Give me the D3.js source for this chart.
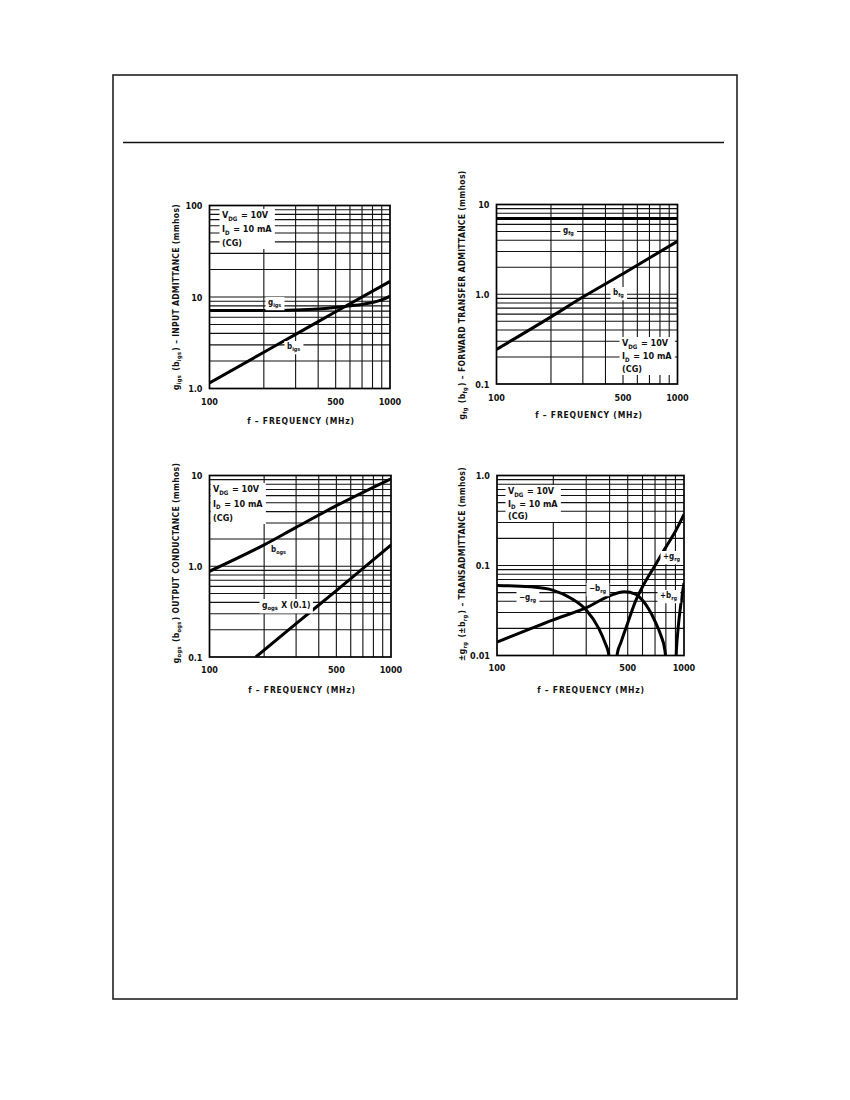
<!DOCTYPE html>
<html><head><meta charset="utf-8">
<script src="https://cdn.jsdelivr.net/npm/d3@7"></script>
<style>
body{margin:0;background:#fff;}
text{font-family:"Liberation Sans Narrow","DejaVu Sans Condensed","Liberation Sans",Arial,sans-serif;font-weight:bold;fill:#111;}
</style></head>
<body><svg id="c" width="850" height="1100"></svg>
<script>
// ---------- data ----------
const xTickValues = [100, 500, 1000];
const xGridValues = [200, 300, 400, 500, 600, 700, 800, 900];

// Chart 1: input admittance
const c1Freq = [100, 200, 300, 400, 500, 600, 700, 800, 900, 1000];
const c1Gigs = [7.1, 7.1, 7.2, 7.4, 7.7, 8.0, 8.3, 8.7, 9.3, 10.2];
const c1BFreq = [100, 200, 300, 500, 1000];
const c1Bigs = [1.15, 2.49, 3.9, 6.9, 14.8];
const c1YTicks = ["1.0", "10", "100"];

// Chart 2: forward transfer admittance
const c2Freq = [100, 1000];
const c2Gfg = [7.0, 7.0];
const c2BFreq = [100, 200, 300, 500, 1000];
const c2Bfg = [0.243, 0.56, 0.93, 1.69, 3.9];
const c2YTicks = ["0.1", "1.0", "10"];

// Chart 3: output conductance
const c3BFreq = [100, 200, 300, 500, 1000];
const c3Bogs = [0.88, 1.72, 2.68, 4.65, 9.2];
const c3GFreq = [180, 300, 500, 1000];
const c3Gogs = [0.1, 0.233, 0.54, 1.71];
const c3YTicks = ["0.1", "1.0", "10"];

// Chart 4: transadmittance
const c4NegGFreq = [100, 150, 200, 250, 300, 350, 380, 395, 405];
const c4NegG = [0.060, 0.058, 0.053, 0.043, 0.032, 0.020, 0.0135, 0.0105, 0.006];
const c4NegBFreq = [100, 200, 300, 400, 480, 550, 600, 700, 750, 790, 815];
const c4NegB = [0.0141, 0.0249, 0.034, 0.046, 0.051, 0.048, 0.041, 0.024, 0.017, 0.0115, 0.006];
const c4PosGFreq = [430, 440, 460, 500, 550, 600, 700, 800, 900, 1000];
const c4PosG = [0.007, 0.0105, 0.014, 0.023, 0.040, 0.058, 0.10, 0.16, 0.24, 0.37];
const c4PosBFreq = [900, 910, 930, 960, 1000];
const c4PosB = [0.006, 0.011, 0.02, 0.036, 0.064];
const c4YTicks = ["0.01", "0.1", "1.0"];

// ---------- drawing ----------
const svg = d3.select("#c");
svg.append("rect").attr("x", 113).attr("y", 75).attr("width", 624).attr("height", 924)
  .attr("fill", "none").attr("stroke", "#222").attr("stroke-width", 1.6);
svg.append("line").attr("x1", 123).attr("x2", 724).attr("y1", 142.5).attr("y2", 142.5)
  .attr("stroke", "#111").attr("stroke-width", 1.6);

function rich(sel, parts, size) {
  parts.forEach(p => {
    if (p[1]) {
      sel.append("tspan").attr("font-size", size * 0.68).attr("dy", size * 0.28).text(p[0]);
      sel.append("tspan").attr("font-size", size).attr("dy", -size * 0.28).text("\u200A");
    } else {
      sel.append("tspan").attr("font-size", size).text(p[0]);
    }
  });
  return sel;
}

let clipId = 0;
function chart(cfg) {
  const g = svg.append("g");
  const x = d3.scaleLog().domain([100, 1000]).range([cfg.x0, cfg.x1]);
  const y = d3.scaleLog().domain(cfg.yDomain).range([cfg.y1, cfg.y0]);
  const id = "clip" + (clipId++);
  g.append("clipPath").attr("id", id).append("rect")
    .attr("x", cfg.x0).attr("y", cfg.y0).attr("width", cfg.x1 - cfg.x0).attr("height", cfg.y1 - cfg.y0);

  // grid
  const hv = [];
  const lo = Math.log10(cfg.yDomain[0]), hi = Math.log10(cfg.yDomain[1]);
  for (let d = lo; d < hi; d++) for (let m = 1; m <= 9; m++) {
    const v = m * Math.pow(10, d);
    if (v > cfg.yDomain[0] * 1.0001) hv.push(v);
  }
  g.append("g").selectAll("line").data(hv).join("line")
    .attr("x1", cfg.x0).attr("x2", cfg.x1).attr("y1", d => y(d)).attr("y2", d => y(d))
    .attr("stroke", "#111").attr("stroke-width", 1.1);
  g.append("g").selectAll("line").data(xGridValues).join("line")
    .attr("x1", d => x(d)).attr("x2", d => x(d)).attr("y1", cfg.y0).attr("y2", cfg.y1)
    .attr("stroke", "#111").attr("stroke-width", 1.1);

  // curves
  const line = d3.line().x(d => x(d[0])).y(d => y(d[1])).curve(d3.curveMonotoneX);
  cfg.series.forEach(s => {
    g.append("path").attr("clip-path", `url(#${id})`)
      .datum(s.f.map((f, i) => [f, s.v[i]]))
      .attr("d", line).attr("fill", "none").attr("stroke", "#000")
      .attr("stroke-width", 3).attr("stroke-linejoin", "round");
  });

  // labels with knockout
  cfg.labels.forEach(L => {
    const grp = g.append("g");
    const bg = grp.append("rect").attr("fill", "#fff");
    L.lines.forEach((ln, i) => rich(grp.append("text")
      .attr("x", L.x).attr("y", L.y + i * (L.dy || 0)), ln, L.size || 9));
    const bb = grp.node().getBBox();
    const p = L.pad || 2.5;
    bg.attr("x", bb.x - p).attr("y", bb.y - 1).attr("width", bb.width + 2 * p).attr("height", bb.height + 2);
  });

  // frame
  g.append("rect").attr("x", cfg.x0).attr("y", cfg.y0).attr("width", cfg.x1 - cfg.x0).attr("height", cfg.y1 - cfg.y0)
    .attr("fill", "none").attr("stroke", "#000").attr("stroke-width", 1.7);

  // tick labels
  g.append("g").selectAll("text").data(xTickValues).join("text")
    .attr("x", d => x(d)).attr("y", cfg.xTickY).attr("text-anchor", "middle")
    .attr("font-size", 9).text(d => d);
  g.append("g").selectAll("text").data(cfg.yTicks).join("text")
    .attr("x", cfg.x0 - 7).attr("y", d => y(+d) + 3.5).attr("text-anchor", "end")
    .attr("font-size", 9).text(d => d);

  // axis titles
  g.append("text").attr("x", cfg.xTitle[0]).attr("y", cfg.xTitle[1]).attr("text-anchor", "middle")
    .attr("font-size", 8.5).attr("letter-spacing", 0.8).text("f \u2013 FREQUENCY (MHz)");
  const yl = g.append("text").attr("text-anchor", "middle")
    .attr("transform", `translate(${cfg.yTitle[0]},${cfg.yTitle[1]}) rotate(-90)`).attr("letter-spacing", 0.3);
  rich(yl, cfg.yTitleParts, 8.5);
}

const vdgBlock = [[["V"], ["DG", 1], [" = 10V"]], [["I"], ["D", 1], [" = 10 mA"]], [["(CG)"]]];

chart({
  x0: 209.5, x1: 390, y0: 205.5, y1: 388.5, yDomain: [1, 100], yTicks: c1YTicks,
  xTickY: 405, xTitle: [301, 424], yTitle: [179, 297],
  yTitleParts: [["g"], ["igs", 1], [" (b"], ["igs", 1], [") \u2013 INPUT ADMITTANCE (mmhos)"]],
  series: [{ f: c1Freq, v: c1Gigs }, { f: c1BFreq, v: c1Bigs }],
  labels: [
    { x: 222, y: 218, dy: 14, lines: vdgBlock, size: 9 },
    { x: 268, y: 305, lines: [[["g"], ["igs", 1]]], size: 8 },
    { x: 287, y: 349, lines: [[["b"], ["igs", 1]]], size: 8 }
  ]
});

chart({
  x0: 496.5, x1: 677.5, y0: 204.5, y1: 384, yDomain: [0.1, 10], yTicks: c2YTicks,
  xTickY: 401, xTitle: [589, 418], yTitle: [465, 295],
  yTitleParts: [["g"], ["fg", 1], [" (b"], ["fg", 1], [") \u2013 FORWARD TRANSFER ADMITTANCE (mmhos)"]],
  series: [{ f: c2Freq, v: c2Gfg }, { f: c2BFreq, v: c2Bfg }],
  labels: [
    { x: 622, y: 346, dy: 13, lines: vdgBlock, size: 9 },
    { x: 563, y: 233, lines: [[["g"], ["fg", 1]]], size: 8 },
    { x: 613, y: 295, lines: [[["b"], ["fg", 1]]], size: 8 }
  ]
});

chart({
  x0: 209.5, x1: 391, y0: 475.5, y1: 657, yDomain: [0.1, 10], yTicks: c3YTicks,
  xTickY: 673, xTitle: [302, 693], yTitle: [179, 563],
  yTitleParts: [["g"], ["ogs", 1], [" (b"], ["ogs", 1], [") OUTPUT CONDUCTANCE (mmhos)"]],
  series: [{ f: c3BFreq, v: c3Bogs }, { f: c3GFreq, v: c3Gogs }],
  labels: [
    { x: 213, y: 492, dy: 14.5, lines: vdgBlock, size: 9 },
    { x: 271, y: 552, lines: [[["b"], ["ogs", 1]]], size: 8 },
    { x: 262, y: 608, lines: [[["g"], ["ogs", 1], [" X (0.1)"]]], size: 8.5 }
  ]
});

chart({
  x0: 497, x1: 684, y0: 475.5, y1: 655.5, yDomain: [0.01, 1], yTicks: c4YTicks,
  xTickY: 671, xTitle: [591, 693], yTitle: [465, 564],
  yTitleParts: [["\u00B1g"], ["rg", 1], [" (\u00B1b"], ["rg", 1], [") \u2013 TRANSADMITTANCE (mmhos)"]],
  series: [{ f: c4NegGFreq, v: c4NegG }, { f: c4NegBFreq, v: c4NegB },
           { f: c4PosGFreq, v: c4PosG }, { f: c4PosBFreq, v: c4PosB }],
  labels: [
    { x: 508, y: 494, dy: 12.5, lines: vdgBlock, size: 9 },
    { x: 519, y: 600, lines: [[["\u2212g"], ["rg", 1]]], size: 8 },
    { x: 589, y: 591, lines: [[["\u2212b"], ["rg", 1]]], size: 8 },
    { x: 663, y: 559, lines: [[["+g"], ["rg", 1]]], size: 8 },
    { x: 660, y: 598, lines: [[["+b"], ["rg", 1]]], size: 8 }
  ]
});
</script></body></html>
